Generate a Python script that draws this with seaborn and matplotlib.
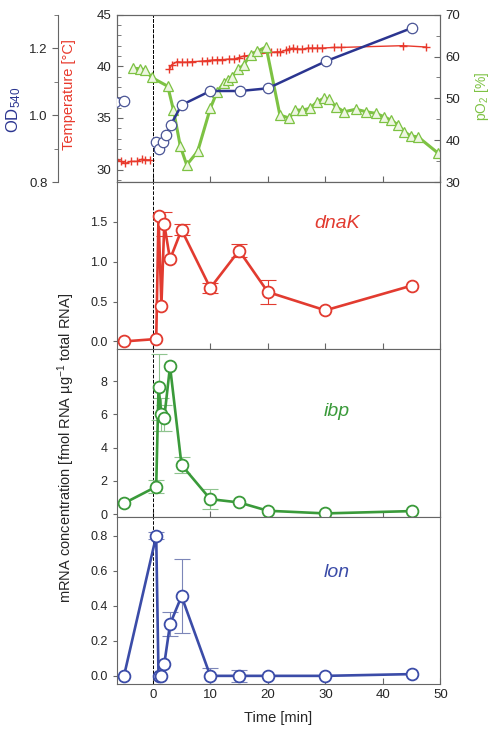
import numpy as np
import matplotlib
matplotlib.use("Agg")
import matplotlib.pyplot as plt
from matplotlib.ticker import MultipleLocator, FormatStrFormatter
import seaborn as sns

# ---- top panel data ----
od_t_pre = [-6.6, -5.0]
od_pre = [1.04, 1.043]
od_t = [0.6, 1.1, 1.7, 2.3, 3.1, 5.0, 10.0, 15.2, 20.0, 30.1, 45.0]
od = [0.92, 0.90, 0.92, 0.94, 0.97, 1.03, 1.072, 1.072, 1.08, 1.161, 1.26]

temp_t_pre = [-6.5, -5.5, -4.8, -3.8, -2.8, -1.9, -1.3, -0.5]
temp_pre = [31.0, 30.8, 30.6, 30.8, 30.8, 31.0, 30.95, 30.95]
temp_t = [2.9, 3.3, 4.2, 5.0, 5.9, 6.8, 8.5, 9.4, 10.3, 11.2, 12.1, 13.2, 14.1,
          15.0, 15.8, 17.5, 20.5, 21.6, 22.2, 23.1, 23.7, 24.3, 25.1, 26.0,
          26.9, 27.7, 28.6, 29.5, 31.5, 32.7, 43.5, 47.5]
temp = [39.7, 40.15, 40.45, 40.4, 40.4, 40.45, 40.5, 40.55, 40.6, 40.65, 40.65,
        40.7, 40.7, 40.85, 41.0, 41.1, 41.35, 41.4, 41.4, 41.55, 41.7, 41.75,
        41.7, 41.65, 41.77, 41.77, 41.77, 41.77, 41.83, 41.83, 42.0, 41.87]

po2_t = [-3.5, -2.3, -1.3, -0.2, 2.6, 3.6, 4.8, 5.9, 7.8, 10.0, 11.2, 12.3,
         13.0, 13.8, 14.9, 15.8, 17.0, 18.1, 19.7, 22.1, 23.7, 24.8, 26.0,
         27.3, 28.6, 29.7, 30.6, 31.8, 33.3, 35.3, 37.1, 38.8, 40.2, 41.4,
         42.6, 43.7, 44.9, 46.1, 49.6]
po2 = [57.2, 57.1, 56.8, 55.0, 52.9, 47.2, 38.5, 34.1, 37.3, 47.6, 51.6, 53.6,
       54.4, 55.2, 57.0, 58.0, 60.4, 61.2, 62.3, 46.0, 45.3, 47.2, 47.2,
       47.6, 49.2, 50.0, 49.8, 48.0, 46.8, 47.4, 46.8, 46.4, 45.6, 44.8,
       43.7, 42.0, 41.0, 40.8, 36.9]

# ---- mRNA panels ----
time = [-5, 0.6, 1, 1.5, 2, 3, 5, 10, 15, 20, 30, 45]
dnak = [0.0, 0.03, 1.58, 0.45, 1.47, 1.03, 1.40, 0.67, 1.14, 0.62, 0.39, 0.70]
dnak_err = [0, 0, 0, 0, 0.15, 0, 0.07, 0.06, 0.08, 0.15, 0, 0]
ibp = [0.65, 1.65, 7.64, 6.0, 5.8, 8.9, 2.96, 0.9, 0.7, 0.2, 0.04, 0.18]
ibp_err = [0, 0.4, 2.0, 1.0, 0.8, 0, 0.5, 0.6, 0, 0, 0, 0]
lon = [0.0, 0.80, 0.0, 0.0, 0.067, 0.295, 0.455, 0.0, 0.0, 0.0, 0.0, 0.01]
lon_err = [0, 0.02, 0, 0, 0, 0.07, 0.21, 0.045, 0.035, 0, 0, 0]

sns.set_style("ticks")
plt.rcParams['font.family'] = ['Liberation Sans', 'DejaVu Sans']
plt.rcParams['mathtext.fontset'] = 'custom'
plt.rcParams['mathtext.rm'] = 'Liberation Sans'
plt.rcParams['mathtext.it'] = 'Liberation Sans:italic'

C_OD = '#2b3590'
C_TEMP = '#e8392c'
C_PO2 = '#7dc243'
C_DNAK = '#e23b30'
C_IBP = '#3a9a3a'
C_LON = '#3b4ca8'
SPINE = '#666666'

fig = plt.figure(figsize=(4.9, 7.34), dpi=100)
left, width = 0.2378, 0.661
h = 0.228
bottoms = [0.068 + 3 * h, 0.068 + 2 * h, 0.068 + h, 0.068]
ax_t = fig.add_axes([left, bottoms[0], width, h])
ax_d = fig.add_axes([left, bottoms[1], width, h], sharex=ax_t)
ax_i = fig.add_axes([left, bottoms[2], width, h], sharex=ax_t)
ax_l = fig.add_axes([left, bottoms[3], width, h], sharex=ax_t)
ax_p = ax_t.twinx()
ax_od = ax_t.twinx()

# pO2
sns.lineplot(x=po2_t, y=po2, ax=ax_p, color=C_PO2, linewidth=2.2, marker='^',
             markersize=7.5, markerfacecolor='#eef6e2', markeredgecolor=C_PO2,
             markeredgewidth=0.9, errorbar=None, sort=False)
# temperature
for tt, yy in [(temp_t_pre, temp_pre), (temp_t, temp)]:
    sns.lineplot(x=tt, y=yy, ax=ax_t, color=C_TEMP, linewidth=1.0, marker='+',
                 markersize=6, markeredgecolor=C_TEMP, markeredgewidth=1.0,
                 errorbar=None, sort=False)
# OD
for tt, yy in [(od_t_pre, od_pre), (od_t, od)]:
    sns.lineplot(x=tt, y=yy, ax=ax_od, color=C_OD, linewidth=1.8, marker='o',
                 markersize=7.5, markerfacecolor='white', markeredgecolor='#4a5596',
                 markeredgewidth=0.9, errorbar=None, sort=False)

ax_t.set_xlim(-6.3, 50)
ax_t.set_ylim(28.8, 45)
ax_t.yaxis.set_major_locator(MultipleLocator(5))
ax_t.yaxis.set_minor_locator(MultipleLocator(1))
ax_p.set_ylim(30, 70)
ax_p.yaxis.set_major_locator(MultipleLocator(10))
ax_p.yaxis.set_minor_locator(MultipleLocator(5))
ax_od.set_ylim(0.8, 1.3)
ax_od.set_yticks([0.8, 1.0, 1.2])
ax_od.yaxis.set_minor_locator(MultipleLocator(0.1))
ax_od.yaxis.set_ticks_position('left')
ax_od.yaxis.set_label_position('left')
ax_od.spines['left'].set_position(('axes', -0.18))
ax_od.spines['left'].set_visible(True)
for s in ['top', 'right', 'bottom']:
    ax_od.spines[s].set_visible(False)

ax_t.set_ylabel('Temperature [°C]', color=C_TEMP, fontsize=10.5)
ax_t.yaxis.set_label_coords(-0.125, 0.52)
ax_p.set_ylabel('pO$_2$ [%]', color=C_PO2, fontsize=10)
ax_p.yaxis.set_label_coords(1.10, 0.51)
ax_od.set_ylabel('OD$_{540}$', color=C_OD, fontsize=12)
ax_od.yaxis.set_label_coords(-0.29, 0.43)

# mRNA panels
panels = [(ax_d, dnak, dnak_err, C_DNAK, C_DNAK, 'dnaK', (-0.1, 2.0), 0.5, 1.5, 1.48),
          (ax_i, ibp, ibp_err, C_IBP, '#8fc48f', 'ibp', (-0.16, 9.92), 2, 8, 6.2),
          (ax_l, lon, lon_err, C_LON, '#7c86b8', 'lon', (-0.047, 0.909), 0.2, 0.8, 0.59)]
for ax, vals, err, col, ecol, name, ylim, step, top, ty in panels:
    t_arr, v_arr, e_arr = np.array(time), np.array(vals), np.array(err)
    keep = e_arr > 0
    ax.errorbar(t_arr[keep], v_arr[keep], yerr=e_arr[keep], fmt='none',
                ecolor=ecol, elinewidth=0.8, capsize=5.5, capthick=0.8, zorder=2)
    sns.lineplot(x=time, y=vals, ax=ax, color=col, linewidth=1.9, marker='o',
                 markersize=8.5, markerfacecolor='white', markeredgecolor=col,
                 markeredgewidth=1.3, errorbar=None, zorder=3)
    ax.set_ylim(*ylim)
    ax.set_yticks(np.arange(0, top + step / 2, step))
    ax.text(32, ty, name, color=col, fontsize=14, style='italic',
            ha='center', va='center')
    ax.set_ylabel('')
    ax.tick_params(axis='y', direction='out', length=3, labelsize=9,
                   color=SPINE)
    ax.tick_params(axis='x', direction='in', length=4, color=SPINE)

ax_d.yaxis.set_major_formatter(FormatStrFormatter('%.1f'))
ax_l.yaxis.set_major_formatter(FormatStrFormatter('%.1f'))

ax_i.set_ylabel('mRNA concentration [fmol RNA µg$^{-1}$ total RNA]', fontsize=10.5)
ax_i.yaxis.set_label_coords(-0.123, 0.41)

ax_t.set_xticks([0, 10, 20, 30, 40, 50])
for ax in [ax_t, ax_d, ax_i]:
    ax.tick_params(axis='x', labelbottom=False)
ax_l.set_xlabel('Time [min]', fontsize=10.5, labelpad=7)
ax_l.tick_params(axis='x', labelsize=9.5)

for ax in [ax_t, ax_p]:
    ax.tick_params(axis='both', which='both', direction='in', color=SPINE,
                   labelsize=9.5)
    ax.tick_params(which='major', length=4)
    ax.tick_params(which='minor', length=3)
ax_od.tick_params(axis='y', which='both', direction='out', color=SPINE, labelsize=9.5)
ax_od.tick_params(which='major', length=4)
ax_od.tick_params(which='minor', length=3)
ax_od.spines['left'].set_color(SPINE)

for ax in [ax_t, ax_d, ax_i, ax_l, ax_p]:
    for s in ax.spines.values():
        s.set_color(SPINE)
        s.set_linewidth(0.8)
        s.set_visible(True)
    ax.axvline(0, color='black', linestyle='--', linewidth=0.7, zorder=1)

fig.savefig('out.png', dpi=100)
